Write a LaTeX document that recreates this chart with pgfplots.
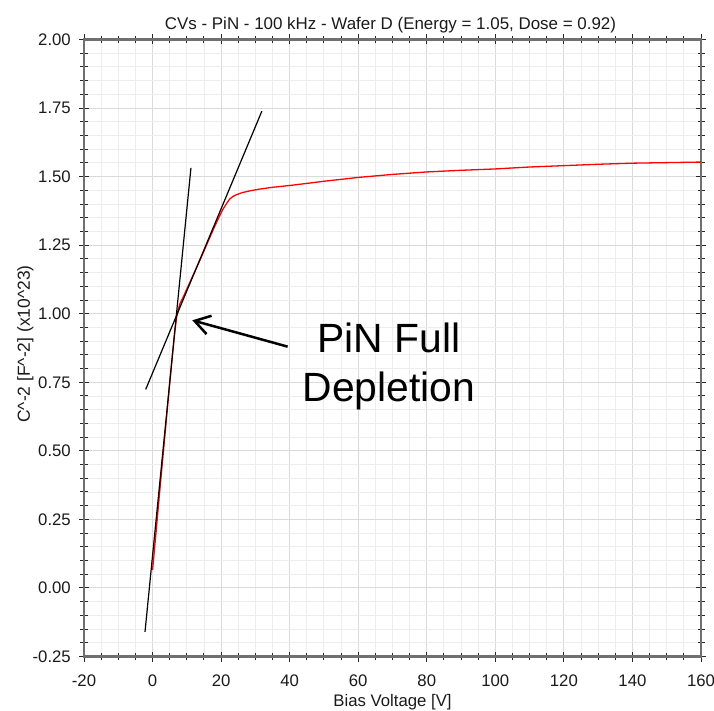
\documentclass[border=0pt]{standalone}
\usepackage{fontspec}
\setmainfont{Liberation Sans}
\usepackage{pgfplots}
\pgfplotsset{compat=1.18}
\usetikzlibrary{arrows.meta}
\definecolor{gridmaj}{HTML}{DADADA}
\definecolor{gridmin}{HTML}{EDEDED}
\definecolor{axgray}{HTML}{707070}
\definecolor{txt}{HTML}{1A1A1A}

\begin{document}
\begin{tikzpicture}
\begin{axis}[
  scale only axis, width=617bp, height=617bp,
  xmin=-20, xmax=160, ymin=-0.25, ymax=2.0,
  xtick={-20,0,20,40,60,80,100,120,140,160},
  ytick={-0.25,0,0.25,0.5,0.75,1,1.25,1.5,1.75,2},
  minor x tick num=3, minor y tick num=4,
  grid=both,
  major grid style={gridmaj, line width=0.9bp},
  minor grid style={gridmin, line width=0.9bp},
  axis line style={axgray, line width=2.5bp},
  tick align=center,
  major tick length=10bp, minor tick length=7bp,
  every tick/.style={black!85, line width=1bp},
  /pgf/number format/assume math mode=true,
  tick label style={font=\fontsize{16.8}{19}\selectfont, text=txt, inner sep=0pt},
  xticklabel style={anchor=base, yshift=-24.5bp},
  yticklabel style={anchor=east, xshift=-8bp, /pgf/number format/.cd, fixed, fixed zerofill, precision=2},
  scaled y ticks=false,
  clip=false,
]
\addplot[red, line width=1.3bp] coordinates {
(0,0.065) (1,0.20) (2,0.34) (3,0.475) (4,0.61) (5,0.745) (6,0.875) (6.5,0.935) (7,0.985)
(7.5,1.015) (8,1.037) (9,1.062) (10,1.09) (12,1.145) (14,1.20) (16,1.258) (18,1.315)
(19.5,1.355) (20.5,1.38) (21.5,1.40) (22.5,1.418) (23.5,1.428) (24.5,1.434) (26,1.441)
(28,1.447) (31,1.454) (35,1.461) (41,1.469) (50,1.483) (60,1.497) (70,1.508) (80,1.517)
(90,1.523) (100,1.528) (110,1.535) (120,1.540) (130,1.545) (140,1.549) (150,1.551) (160,1.553)
};
\addplot[black, line width=1.2bp] coordinates {(-2.2,-0.16) (11.2,1.532)};
\addplot[black, line width=1.2bp] coordinates {(-2.0,0.724) (31.9,1.739)};
\addplot[black, line width=2.5bp, -{Straight Barb[length=15bp,width=19bp]}] coordinates {(39.4,0.88) (11.6,0.976)};
\node[anchor=base, font=\fontsize{41}{49}\selectfont] at (axis cs:69,0.858) {PiN Full};
\node[anchor=base, font=\fontsize{41}{49}\selectfont] at (axis cs:69,0.679) {Depletion};
\end{axis}
\node[anchor=base, font=\fontsize{17}{20}\selectfont, text=txt] at ([xshift=-2bp,yshift=10.3bp]current axis.north) {CVs - PiN - 100 kHz - Wafer D (Energy = 1.05, Dose = 0.92)};
\node[anchor=base, font=\fontsize{16.8}{20}\selectfont, text=txt] at ([yshift=-49.5bp]current axis.south) {Bias Voltage [V]};
\node[anchor=base, rotate=90, font=\fontsize{17.5}{20}\selectfont, text=txt] at ([xshift=-54bp,yshift=4bp]current axis.west) {C\textasciicircum-2 [F\textasciicircum-2] (x10\textasciicircum23)};
\pgfresetboundingbox
\path[use as bounding box] ([xshift=-84bp,yshift=-54.5bp]current axis.south west) rectangle ([xshift=13bp,yshift=39.5bp]current axis.north east);
\end{tikzpicture}
\end{document}
